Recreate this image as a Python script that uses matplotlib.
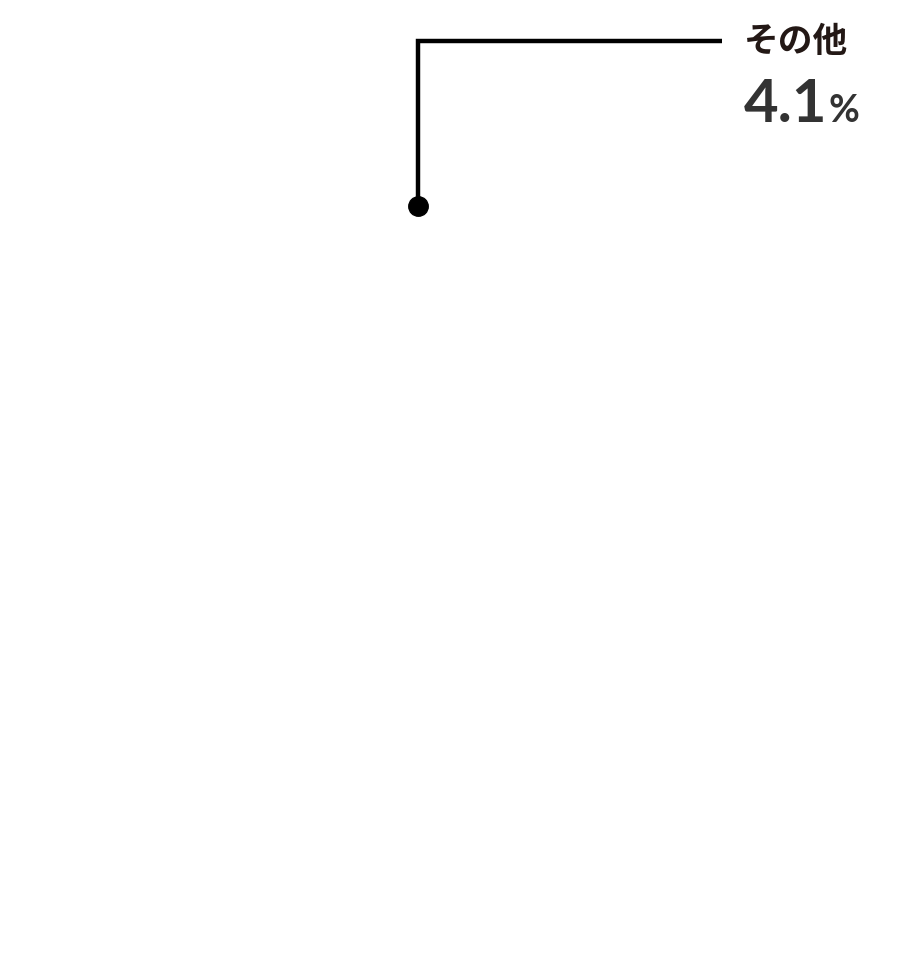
import matplotlib
matplotlib.use("Agg")
import matplotlib.pyplot as plt
import numpy as np

# Data
labels = ["その他", "残り"]
values = [4.1, 95.9]
label_text = "その他"
value_text = "4.1"

W, H = 908, 969
fig = plt.figure(figsize=(W / 100, H / 100), dpi=100)
fig.patch.set_facecolor("white")
ax = fig.add_axes([0, 0, 1, 1])
ax.set_xlim(-W / 2, W / 2)
ax.set_ylim(-H / 2, H / 2)
ax.set_aspect("equal")
ax.axis("off")

R = 281
wedges, _ = ax.pie(values, radius=R, startangle=90, counterclock=True,
                   colors=["white", "white"], center=(0, 0),
                   wedgeprops=dict(linewidth=0))
ax.set_xlim(-W / 2, W / 2)
ax.set_ylim(-H / 2, H / 2)

w = wedges[0]
mid = np.deg2rad((w.theta1 + w.theta2) / 2)
px, py = R * np.cos(mid), R * np.sin(mid)

top_y = H / 2 - 41
end_x = 722 - W / 2
ax.plot([px, px, end_x], [py, top_y, top_y], color="black", lw=3.2,
        solid_joinstyle="miter", solid_capstyle="butt", zorder=3)
ax.plot([px], [py], "o", color="black", ms=14, zorder=4)

tx = 744 - W / 2
ax.text(tx, top_y, label_text, fontsize=25, fontweight="bold",
        family=["Noto Sans CJK JP", "DejaVu Sans"], color="#231815",
        ha="left", va="center")
t = ax.text(tx, H / 2 - 122, value_text, fontsize=43, fontweight="bold",
            family=["Lato", "DejaVu Sans"], color="#333333",
            ha="left", va="baseline")
fig.canvas.draw()
bb = t.get_window_extent()
ax.text(tx + (bb.x1 - bb.x0) + 1, H / 2 - 122, "%", fontsize=27,
        fontweight="bold", family=["Lato", "DejaVu Sans"], color="#333333",
        ha="left", va="baseline")

fig.savefig("out.png", dpi=100, facecolor="white")
